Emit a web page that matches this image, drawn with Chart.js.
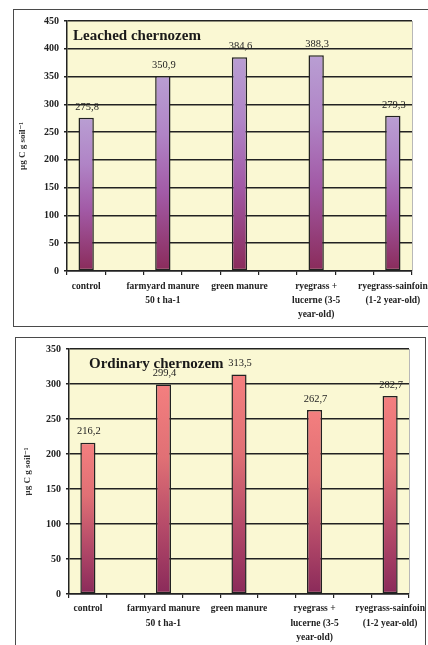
<!DOCTYPE html>
<html>
<head>
<meta charset="utf-8">
<script src="https://cdn.jsdelivr.net/npm/chart.js@4.4.1/dist/chart.umd.min.js"></script>
<style>
  html, body { margin: 0; padding: 0; background: #ffffff; width: 428px; height: 645px; overflow: hidden; }
  .box { position: absolute; border: 1.5px solid #4a4a4a; box-sizing: border-box; }
  .wrap { position: absolute; }
</style>
</head>
<body>
<div class="box" style="left:13px; top:9px; width:430px; height:318px;"></div>
<div class="box" style="left:15px; top:337px; width:411px; height:320px;"></div>
<div class="wrap" style="left:14px; top:10px; width:414px; height:315px;"><canvas id="c1"></canvas></div>
<div class="wrap" style="left:16px; top:338px; width:409px; height:307px;"><canvas id="c2"></canvas></div>
<script>
// ---- data ----
const categories = [
  ["control"],
  ["farmyard manure", "50 t ha-1"],
  ["green manure"],
  ["ryegrass +", "lucerne (3-5", "year-old)"],
  ["ryegrass-sainfoin", "(1-2 year-old)"]
];
const leachedValues  = [275.8, 350.9, 384.6, 388.3, 279.3];
const ordinaryValues = [216.2, 299.4, 313.5, 262.7, 282.7];
const leachedTitle  = "Leached chernozem";
const ordinaryTitle = "Ordinary chernozem";
const yAxisTitle    = "μg C g soil⁻¹";
const leachedYMax  = 450;
const ordinaryYMax = 350;
const yStep = 50;

// Excel-style category axis: each category followed by an empty slot
function spread(arr, filler) {
  const out = [];
  arr.forEach((v, i) => { out.push(v); if (i < arr.length - 1) out.push(filler); });
  return out;
}

const SERIF = '"Liberation Serif", "DejaVu Serif", serif';

const plotDecor = {
  id: 'plotDecor',
  beforeDraw(chart) {
    const a = chart.chartArea, ctx = chart.ctx;
    ctx.save();
    ctx.fillStyle = '#faf8d3';
    ctx.fillRect(a.left, a.top, a.right - a.left, a.bottom - a.top);
    ctx.restore();
  },
  afterDraw(chart) {
    const a = chart.chartArea, ctx = chart.ctx, o = chart.options.plugins.plotDecor;
    ctx.save();
    ctx.strokeStyle = '#b8b8b8';
    ctx.lineWidth = 1;
    ctx.beginPath();
    ctx.moveTo(a.right + 0.5, a.top);
    ctx.lineTo(a.right + 0.5, a.bottom);
    ctx.stroke();
    // inner title
    ctx.fillStyle = '#1a1a1a';
    ctx.font = 'bold 15px ' + SERIF;
    ctx.textBaseline = 'middle';
    ctx.textAlign = 'left';
    ctx.fillText(o.title, a.left + o.titleDx, a.top + o.titleDy);
    // value labels
    ctx.font = '10.5px ' + SERIF;
    ctx.textAlign = 'center';
    ctx.fillStyle = '#222';
    const meta = chart.getDatasetMeta(0);
    const data = chart.data.datasets[0].data;
    meta.data.forEach((bar, i) => {
      const v = data[i];
      if (v === null || v === undefined) return;
      ctx.fillText(v.toFixed(1).replace('.', ','), bar.x + 1, bar.y - o.labelGap);
    });
    ctx.restore();
  }
};

function makeChart(id, values, yMax, stops, title, opts) {
  const labels = spread(categories, "");
  const data = spread(values, null);
  return new Chart(document.getElementById(id), {
    type: 'bar',
    data: {
      labels: labels,
      datasets: [{
        data: data,
        borderColor: '#222',
        borderWidth: 1.5,
        borderSkipped: false,
        categoryPercentage: 1,
        barPercentage: 0.4,
        backgroundColor(ctx) {
          const chart = ctx.chart;
          const v = ctx.raw;
          if (!chart.chartArea || v === null || v === undefined) return stops[0][1];
          const y = chart.scales.y;
          const top = y.getPixelForValue(v), bottom = y.getPixelForValue(0);
          const g = chart.ctx.createLinearGradient(0, top, 0, bottom);
          stops.forEach(s => g.addColorStop(s[0], s[1]));
          return g;
        }
      }]
    },
    options: {
      responsive: true,
      maintainAspectRatio: false,
      animation: false,
      layout: { padding: { left: 0, right: 16, top: 8, bottom: 0 } },
      plugins: {
        legend: { display: false },
        tooltip: { enabled: false },
        plotDecor: { title: title, titleDx: opts.titleDx, titleDy: opts.titleDy, labelGap: opts.labelGap }
      },
      scales: {
        x: {
          offset: true,
          grid: { display: true, offset: true, drawOnChartArea: false, drawTicks: true, tickLength: 4, color: '#222', lineWidth: 1.2 },
          border: { display: true, color: '#222', width: 1.5 },
          ticks: {
            autoSkip: false, maxRotation: 0, minRotation: 0,
            padding: opts.xPad,
            color: '#222',
            font: { family: SERIF, size: 9.5, weight: 'bold', lineHeight: opts.xLine }
          },
          afterFit(scale) { scale.height = opts.xHeight; scale.paddingLeft = 0; scale.paddingRight = 0; }
        },
        y: {
          min: 0, max: yMax,
          ticks: { stepSize: yStep, padding: 5, color: '#222', font: { family: SERIF, size: 10, weight: 'bold' } },
          grid: { color: '#222', lineWidth: 1.5, drawTicks: true, tickLength: 3 },
          border: { display: true, color: '#222', width: 1.5 },
          title: {
            display: true, text: yAxisTitle, color: '#333',
            font: { family: SERIF, size: 9, weight: 'bold' },
            padding: { top: opts.yTitlePad, bottom: 0 }
          },
          afterFit(scale) { scale.width = 53; }
        }
      }
    },
    plugins: [plotDecor]
  });
}

makeChart('c1', leachedValues, leachedYMax,
  [[0, '#b99ed3'], [0.3, '#b084c6'], [0.6, '#a25aa6'], [1, '#8a2b5a']],
  leachedTitle,
  { titleDx: 6, titleDy: 15, labelGap: 11, xPad: 5, xLine: 1.45, xHeight: 54, yTitlePad: 3 });

makeChart('c2', ordinaryValues, ordinaryYMax,
  [[0, '#f47f7f'], [0.35, '#e07075'], [0.7, '#b24868'], [1, '#8a2a5a']],
  ordinaryTitle,
  { titleDx: 20, titleDy: 15, labelGap: 11, xPad: 3, xLine: 1.55, xHeight: 51, yTitlePad: 6 });
</script>
</body>
</html>
